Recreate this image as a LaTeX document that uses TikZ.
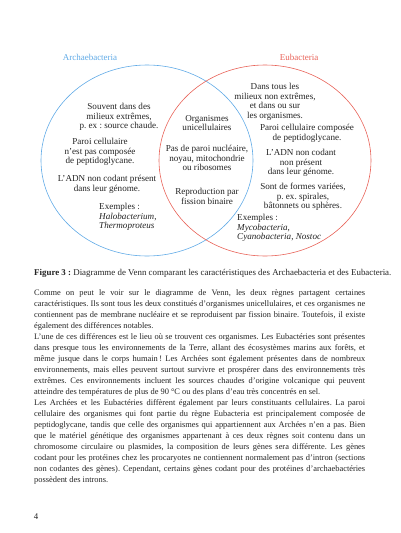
\documentclass[tikz,border=0pt]{standalone}
\usepackage{fontspec}
\setmainfont{Liberation Serif}
\usetikzlibrary{positioning}
\definecolor{archblue}{RGB}{96,170,230}
\definecolor{eured}{RGB}{232,98,88}
\definecolor{inkgray}{RGB}{35,35,35}
\frenchspacing

\begin{document}
\begin{tikzpicture}[
  x=1pt, y=-1pt, inkgray,
  kingdom/.style={inner sep=0pt, font=\fontsize{9}{10}\selectfont},
  trait/.style={inner sep=0pt, align=center, anchor=north, font=\fontsize{9.1}{9.6}\selectfont},
  examples/.style={trait, align=left, anchor=north west},
  venn/.style={line width=0.6pt},
]
\useasboundingbox (0,0) rectangle (400,533);
% --- the two sets ---
\draw[venn, archblue] (147,160.5) ellipse [x radius=106pt, y radius=95.5pt];
\draw[venn, eured]    (265,160.5) ellipse [x radius=106pt, y radius=95.5pt];
\node[kingdom, text=archblue] (arch) at (90,57)  {Archaebacteria};
\node[kingdom, text=eured]    (eub)  at (299,57) {Eubacteria};
% --- Archaebacteria only ---
\node[trait] (a1) at (119,103) {Souvent dans des\\milieux extrêmes,\\p.~ex~: source chaude.};
\node[trait] (a2) at (100,138) {Paroi cellulaire\\n'est pas composée\\de peptidoglycane.};
\node[trait] (a3) at (107,175) {L'ADN non codant présent\\dans leur génome.};
\node[examples] (a4) at (99,203) {Exemples :\\\textit{Halobacterium},\\\textit{Thermoproteus}};
% --- shared ---
\node[trait] (m1) at (207,115) {Organismes\\unicellulaires};
\node[trait] (m2) at (207,145) {Pas de paroi nucléaire,\\noyau, mitochondrie\\ou ribosomes};
\node[trait] (m3) at (207,188) {Reproduction par\\fission binaire};
% --- Eubacteria only ---
\node[trait] (e1) at (275,83)  {Dans tous les\\milieux non extrêmes,\\et dans ou sur\\les organismes.};
\node[trait] (e2) at (307,124) {Paroi cellulaire composée\\de peptidoglycane.};
\node[trait] (e3) at (301,149) {L'ADN non codant\\non présent\\dans leur génome.};
\node[trait] (e4) at (303,183) {Sont de formes variées,\\p.~ex. spirales,\\bâtonnets ou sphères.};
\node[examples] (e5) at (237,214) {Exemples :\\\textit{Mycobacteria},\\\textit{Cyanobacteria}, \textit{Nostoc}};
% --- caption and text ---
\node[inner sep=0pt, anchor=west, font=\fontsize{8.9}{10}\selectfont] (cap) at (34,273)
  {\textbf{Figure 3 :} Diagramme de Venn comparant les caractéristiques des Archaebacteria et des Eubacteria.};
\node[inner sep=0pt, anchor=north west, text width=331pt, align=justify,
      font=\fontsize{8.4}{11}\selectfont] (body) at (34,289) {%
  \tolerance=9999 \hyphenpenalty=10000 \parindent=0pt
  Comme on peut le voir sur le diagramme de Venn, les deux règnes partagent certaines\linebreak
  caractéristiques. Ils sont tous les deux constitués d'organismes unicellulaires, et ces organismes ne\linebreak
  contiennent pas de membrane nucléaire et se reproduisent par fission binaire. Toutefois, il existe\linebreak
  également des différences notables.\par
  L'une de ces différences est le lieu où se trouvent ces organismes. Les Eubactéries sont présentes\linebreak
  dans presque tous les environnements de la Terre, allant des écosystèmes marins aux forêts, et\linebreak
  même jusque dans le corps humain\,! Les Archées sont également présentes dans de nombreux\linebreak
  environnements, mais elles peuvent surtout survivre et prospérer dans des environnements très\linebreak
  extrêmes. Ces environnements incluent les sources chaudes d'origine volcanique qui peuvent\linebreak
  atteindre des températures de plus de 90~°C ou des plans d'eau très concentrés en sel.\par
  Les Archées et les Eubactéries diffèrent également par leurs constituants cellulaires. La paroi\linebreak
  cellulaire des organismes qui font partie du règne Eubacteria est principalement composée de\linebreak
  peptidoglycane, tandis que celle des organismes qui appartiennent aux Archées n'en a pas. Bien\linebreak
  que le matériel génétique des organismes appartenant à ces deux règnes soit contenu dans un\linebreak
  chromosome circulaire ou plasmides, la composition de leurs gènes sera différente. Les gènes\linebreak
  codant pour les protéines chez les procaryotes ne contiennent normalement pas d'intron (sections\linebreak
  non codantes des gènes). Cependant, certains gènes codant pour des protéines d'archaebactéries\linebreak
  possèdent des introns.};
\node[inner sep=0pt, font=\fontsize{8.8}{10}\selectfont] (pageno) at (36,517) {4};
\end{tikzpicture}
\end{document}
